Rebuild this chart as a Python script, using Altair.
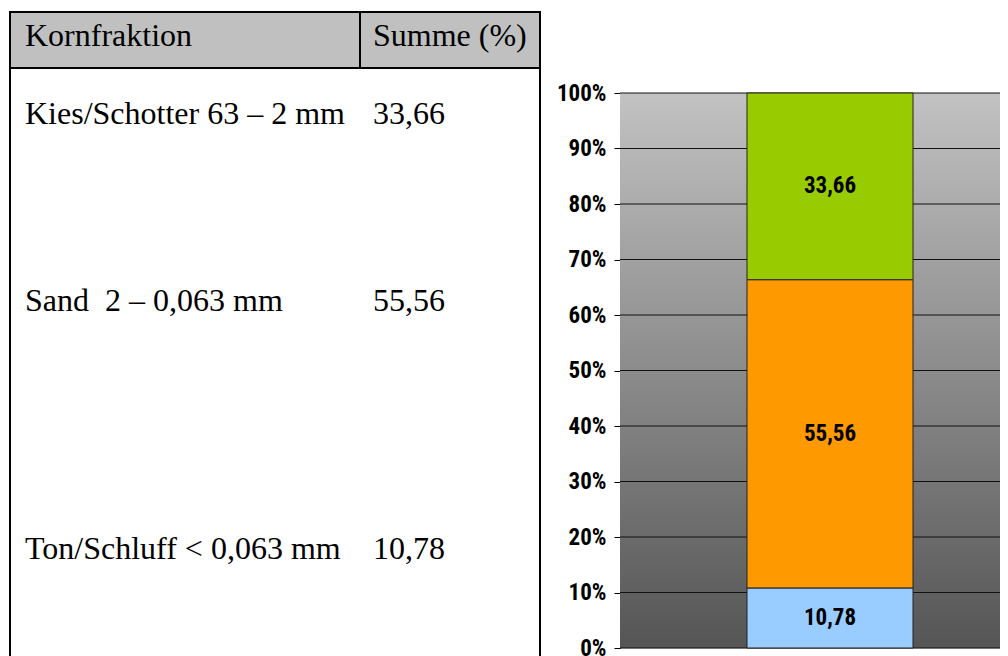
import altair as alt
import pandas as pd

# ---------------- data ----------------
HEADERS = ["Kornfraktion", "Summe (%)"]
FRACTIONS = ["Kies/Schotter 63 – 2 mm", "Sand\u00a0 2 – 0,063 mm", "Ton/Schluff < 0,063 mm"]
SUMS = [33.66, 55.56, 10.78]
COLORS = ["#99cc00", "#ff9900", "#99ccff"]
Y_TICKS = [0, 10, 20, 30, 40, 50, 60, 70, 80, 90, 100]
PROBE = "Probe"

# ---------------- layout ----------------
PLOT_W, PLOT_H = 380, 555
PAD = {"left": 612, "top": 85, "right": 0, "bottom": 8}
# table geometry relative to plot origin (pixels)
T_LEFT, T_RIGHT, T_DIV = -610, -80, -260
T_TOP, T_HEAD_BOTTOM, T_BOTTOM = -81, -25, 570
TXT_COL1, TXT_COL2 = -595, -247
HEAD_BASE = -47
ROW_BASE = [31, 218, 466]
SERIF = "Liberation Serif"
NARROW = "Roboto Condensed, Liberation Sans"

df = pd.DataFrame({
    "fraktion": FRACTIONS,
    "summe": SUMS,
    "idx": list(range(len(FRACTIONS))),
})
df["label"] = [f"{v:.2f}".replace(".", ",") for v in SUMS]
df["probe"] = PROBE
head_df = pd.DataFrame({"h": HEADERS, "i": [0, 1]})
one = pd.DataFrame({"a": [0]})
ticks_df = pd.DataFrame({"v": Y_TICKS})

# ---------------- table ----------------
header_bg = alt.Chart(one).mark_rect(fill="#c0c0c0").encode(
    x=alt.value(T_LEFT), x2=alt.value(T_RIGHT),
    y=alt.value(T_TOP), y2=alt.value(T_HEAD_BOTTOM))

lines = []
for yy in [T_TOP, T_HEAD_BOTTOM]:
    lines.append(alt.Chart(one).mark_rule(color="black", strokeWidth=2).encode(
        x=alt.value(T_LEFT - 1), x2=alt.value(T_RIGHT + 1), y=alt.value(yy)))
for (xx, y1, y2) in [
    (T_LEFT, T_TOP - 1, T_BOTTOM),
    (T_RIGHT, T_TOP - 1, T_BOTTOM),
    (T_DIV, T_TOP, T_HEAD_BOTTOM),
]:
    lines.append(alt.Chart(one).mark_rule(color="black", strokeWidth=2).encode(
        x=alt.value(xx), y=alt.value(y1), y2=alt.value(y2)))

FS = 32
texts = []
for i, xx in enumerate([TXT_COL1, TXT_COL2]):
    texts.append(alt.Chart(head_df).transform_filter(alt.datum.i == i).mark_text(
        align="left", baseline="alphabetic", font=SERIF, fontSize=FS, color="black"
    ).encode(text="h:N", x=alt.value(xx), y=alt.value(HEAD_BASE)))
for i, yy in enumerate(ROW_BASE):
    texts.append(alt.Chart(df).transform_filter(alt.datum.idx == i).mark_text(
        align="left", baseline="alphabetic", font=SERIF, fontSize=FS, color="black"
    ).encode(text="fraktion:N", x=alt.value(TXT_COL1), y=alt.value(yy)))
    texts.append(alt.Chart(df).transform_filter(alt.datum.idx == i).mark_text(
        align="left", baseline="alphabetic", font=SERIF, fontSize=FS, color="black"
    ).encode(text="label:N", x=alt.value(TXT_COL2), y=alt.value(yy)))

# ---------------- chart ----------------
LBL_FS = 23
yscale = alt.Scale(domain=[0, 100], nice=False)
yaxis = alt.Axis(values=Y_TICKS, labelExpr="datum.value + '%'", grid=False,
                 domainColor="black", domainWidth=1, tickColor="black",
                 tickSize=6, labelPadding=8, labelFont=NARROW,
                 labelFontSize=LBL_FS, labelFontWeight="bold",
                 labelColor="black", title=None)

background = alt.Chart(one).mark_rect(
    fill=alt.Gradient(
        gradient="linear",
        stops=[alt.GradientStop(color="#c2c2c2", offset=0),
               alt.GradientStop(color="#555555", offset=1)],
        x1=0, x2=0, y1=0, y2=1)
).encode(x=alt.value(0), x2=alt.value(PLOT_W), y=alt.value(0), y2=alt.value(PLOT_H))

grid = alt.Chart(ticks_df).mark_rule(color="#111111", strokeWidth=1).encode(
    y=alt.Y("v:Q", scale=yscale, title=None, axis=yaxis))

stacked = alt.Chart(df).transform_stack(
    stack="summe", groupby=["probe"], as_=["y0", "y1"],
    sort=[alt.SortField("idx", order="descending")]
).transform_calculate(mid="(datum.y0 + datum.y1) / 2")

xscale = alt.Scale(paddingInner=0, paddingOuter=0.6446, align=0.5935)

bars = stacked.mark_bar(stroke="#222222", strokeWidth=1).encode(
    x=alt.X("probe:N", scale=xscale, axis=None),
    y=alt.Y("y0:Q", scale=yscale, title=None, axis=yaxis),
    y2="y1:Q",
    color=alt.Color("fraktion:N", scale=alt.Scale(domain=FRACTIONS, range=COLORS), legend=None),
)

labels = stacked.mark_text(font=NARROW, fontSize=LBL_FS, fontWeight="bold", color="black",
                           baseline="middle").encode(
    x=alt.X("probe:N", scale=xscale, axis=None),
    y=alt.Y("mid:Q", scale=yscale, title=None, axis=yaxis),
    text="label:N",
)

chart = alt.layer(header_bg, *lines, *texts, background, grid, bars, labels).properties(
    width=PLOT_W, height=PLOT_H,
    autosize=alt.AutoSizeParams(type="none"),
    padding=PAD,
).configure_view(strokeWidth=0).configure(background="white")

chart.save("out.html", embed_options={"renderer": "svg", "actions": False})
